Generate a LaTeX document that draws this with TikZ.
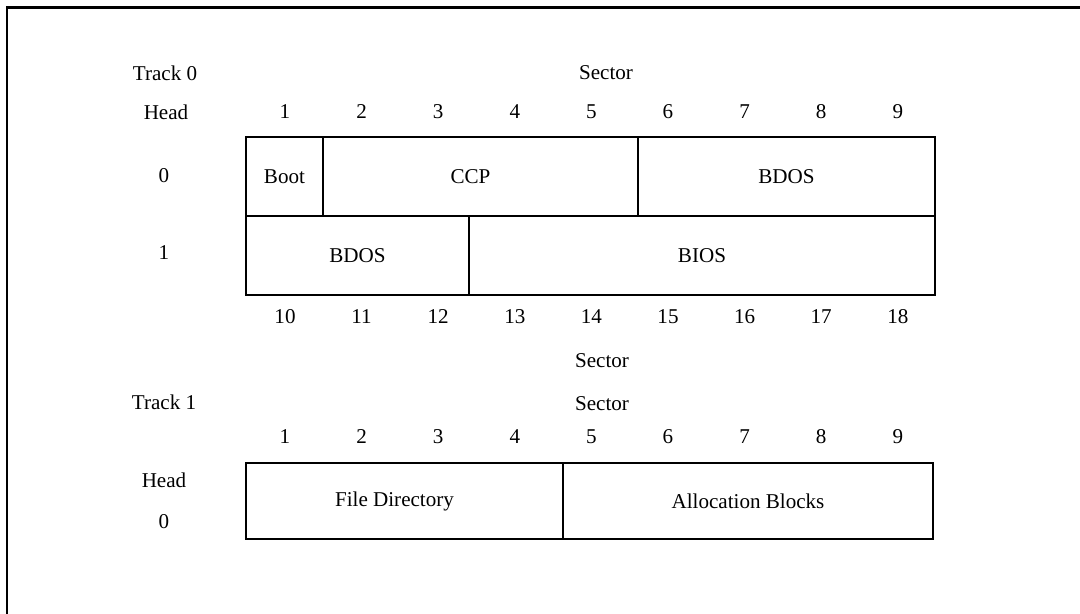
\documentclass[tikz,border=0pt]{standalone}
\usepackage{fontspec}
\setmainfont{Liberation Serif}
\usetikzlibrary{positioning,fit}

\begin{document}
\begin{tikzpicture}[x=0.02cm,y=-0.02cm]
            \tikzstyle{cell} = [rectangle, draw, line width=1.7pt, inner sep=0pt, label distance=0pt]
            \tikzstyle{lbl} = [inner sep=1pt, font=\fontsize{12}{14}\selectfont]
            \tikzset{every label/.style={lbl}}

            \useasboundingbox (0,0) rectangle (1080,614);
            \draw [line width=1.7pt] (7,614) -- (7,8) -- (1080,8);

            % track 0
            \node [lbl] (track0) at (165,73) {Track 0};
            \node [lbl] (sec0) at (606,73) {Sector};
            \node [lbl] (head0) at (166,112) {Head};
            \foreach \n [count=\i] in {1,...,9}
                \node [lbl] (t0s\n) at ({285+(\i-1)*76.6},112) {\n};

            \node [lbl] (h0) at (164,176) {0};
            \node [lbl] (h1) at (164,253) {1};

            \node [cell, fit={(246,137) (323,216)}, label=center:Boot] (boot) {};
            \node [cell, fit={(323,137) (638,216)}, label={[xshift=-0.2cm]center:CCP}] (ccp) {};
            \node [cell, fit={(638,137) (935,216)}, label=center:BDOS] (bdosa) {};
            \node [cell, fit={(246,216) (469,295)}, label=center:BDOS] (bdosb) {};
            \node [cell, fit={(469,216) (935,295)}, label=center:BIOS] (bios) {};

            \foreach \n [count=\i] in {10,...,18}
                \node [lbl] (t0s\n) at ({285+(\i-1)*76.6},317) {\n};
            \node [lbl] (sec0b) at (602,361) {Sector};

            % track 1
            \node [lbl] (track1) at (164,402) {Track 1};
            \node [lbl] (sec1) at (602,404) {Sector};
            \foreach \n [count=\i] in {1,...,9}
                \node [lbl] (t1s\n) at ({285+(\i-1)*76.6},437) {\n};
            \node [lbl] (head1) at (164,480) {Head};
            \node [lbl] (h1b) at (164,522) {0};

            \node [cell, fit={(246,463) (563,539)}, label={[xshift=-0.2cm]center:File Directory}] (fdir) {};
            \node [cell, fit={(563,463) (933,539)}, label=center:Allocation Blocks] (alloc) {};
        \end{tikzpicture}
\end{document}
